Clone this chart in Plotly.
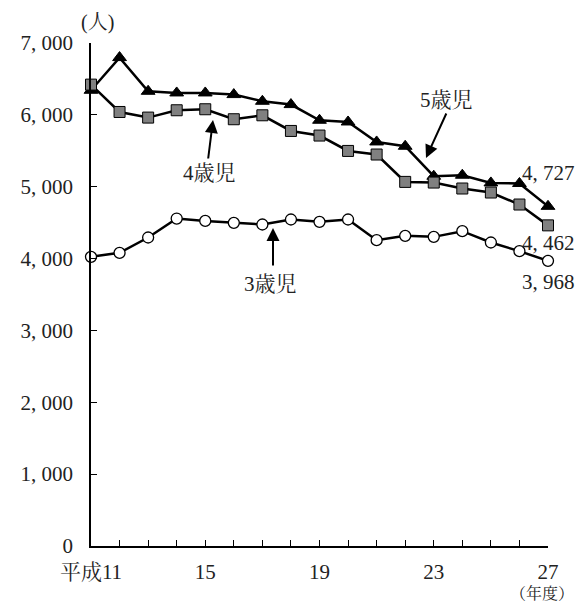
import plotly.graph_objects as go

# 年度 (平成)
years = list(range(11, 28))
tick_years = [11, 15, 19, 23, 27]
tick_text = ["平成11", "15", "19", "23", "27"]

# 園児数（人）
age3 = [4024, 4080, 4293, 4557, 4524, 4497, 4474, 4544, 4511, 4544,
        4256, 4316, 4302, 4381, 4224, 4103, 3968]
age4 = [6421, 6040, 5962, 6064, 6078, 5939, 5994, 5776, 5712, 5498,
        5448, 5067, 5058, 4975, 4919, 4752, 4462]
age5 = [6342, 6797, 6328, 6305, 6305, 6282, 6189, 6143, 5925, 5901,
        5623, 5563, 5146, 5160, 5053, 5045, 4727]

y_ticks = [0, 1000, 2000, 3000, 4000, 5000, 6000, 7000]

W, H = 578, 602
L, R, T, B = 91, 30, 43, 56
X0, X1 = 11, 27
Y0, Y1 = 0, 7000


def fmt(v):
    return f"{v:,}".replace(",", ", ")


# ページ上の位置(px)をデータ座標 / paper 座標へ
def px_to_x(px):
    return X0 + (px - L) / (W - L - R) * (X1 - X0)


def px_to_y(py):
    return Y0 + (H - B - py) / (H - T - B) * (Y1 - Y0)


def px_to_paper(px, py):
    return (px - L) / (W - L - R), (H - B - py) / (H - T - B)


FONT = "Liberation Serif, Noto Serif CJK JP, Noto Sans CJK JP, serif"
TXT = "#222"

fig = go.Figure()

fig.add_trace(go.Scatter(
    x=years, y=age5, mode="lines+markers", name="5歳児",
    line=dict(color="black", width=2.5),
    marker=dict(symbol="triangle-up", size=12, color="black",
                line=dict(color="black", width=1)),
    cliponaxis=False,
))
fig.add_trace(go.Scatter(
    x=years, y=age4, mode="lines+markers", name="4歳児",
    line=dict(color="black", width=2.5),
    marker=dict(symbol="square", size=11, color="#808080",
                line=dict(color="black", width=1)),
    cliponaxis=False,
))
fig.add_trace(go.Scatter(
    x=years, y=age3, mode="lines+markers", name="3歳児",
    line=dict(color="black", width=2.5),
    marker=dict(symbol="circle", size=11, color="white",
                line=dict(color="black", width=1.3)),
    cliponaxis=False,
))

annotations = []

# 最終年度の値
for series, yshift in ((age5, 33), (age4, -18), (age3, -21)):
    annotations.append(dict(
        x=years[-1], y=series[-1], xref="x", yref="y",
        text=fmt(series[-1]), showarrow=False,
        xanchor="center", yanchor="middle", yshift=yshift,
        font=dict(family=FONT, size=21, color=TXT),
    ))


def arrow(tail, head):
    return dict(x=px_to_x(head[0]), y=px_to_y(head[1]),
                ax=px_to_x(tail[0]), ay=px_to_y(tail[1]),
                xref="x", yref="y", axref="x", ayref="y",
                text="", showarrow=True, arrowhead=2, arrowsize=1.3,
                arrowwidth=2, arrowcolor="black")


def label(pos, text, size=21):
    px, py = px_to_paper(*pos)
    return dict(x=px, y=py, xref="paper", yref="paper",
                xanchor="center", yanchor="middle",
                text=text, showarrow=False,
                font=dict(family=FONT, size=size, color=TXT))


# 系列名と矢印、単位
annotations += [
    arrow((447, 112), (426, 158)),
    label((446, 100), "5歳児"),
    arrow((208, 160), (213, 120)),
    label((209, 173), "4歳児"),
    arrow((273, 267), (273, 228)),
    label((270, 284), "3歳児"),
    label((97, 22), "(人)", 20),
    label((542, 593), "（年度）", 16),
]

fig.update_layout(
    width=W, height=H,
    margin=dict(l=L, r=R, t=T, b=B),
    paper_bgcolor="white", plot_bgcolor="white",
    showlegend=False,
    font=dict(family=FONT, size=21, color=TXT),
    annotations=annotations,
)

fig.update_xaxes(
    range=[X0, X1], showgrid=False, zeroline=False,
    showline=True, linecolor="black", linewidth=1.5,
    ticks="inside", ticklen=6, tickcolor="black", tickwidth=1,
    tickvals=years,
    ticktext=[tick_text[tick_years.index(y)] if y in tick_years else ""
              for y in years],
    tickfont=dict(family=FONT, size=21, color=TXT),
    ticklabelstandoff=6,
)
fig.update_yaxes(
    range=[Y0, Y1], showgrid=False, zeroline=False,
    showline=True, linecolor="black", linewidth=1.5,
    ticks="inside", ticklen=6, tickcolor="black", tickwidth=1,
    tickvals=y_ticks, ticktext=[fmt(v) for v in y_ticks],
    tickfont=dict(family=FONT, size=21, color=TXT),
    ticklabelstandoff=12,
)

fig.write_html("out.html")
